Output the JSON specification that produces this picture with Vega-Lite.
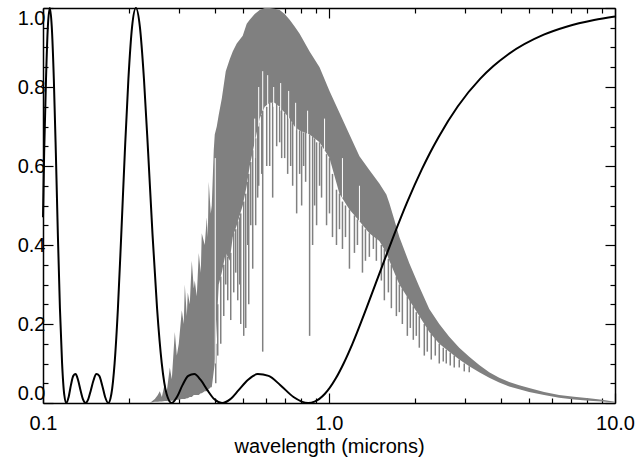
{
  "$schema": "https://vega.github.io/schema/vega-lite/v6.json",
  "width": 572,
  "height": 395,
  "autosize": {"type": "none"},
  "padding": {"left": 43, "top": 8, "right": 23, "bottom": 54},
  "background": "white",
  "config": {
    "view": {"stroke": null},
    "axis": {
      "labelFont": "Liberation Sans", "titleFont": "Liberation Sans",
      "labelFontSize": 20, "titleFontSize": 20, "titleFontWeight": "normal",
      "labelColor": "black", "titleColor": "black", "domainColor": "black", "tickColor": "black",
      "domainWidth": 1.5, "tickWidth": 1.2, "grid": false, "labelOverlap": false, "labelBound": false, "zindex": 1
    }
  },
  "datasets": {
    "band": [
      {"lam": 0.2363, "hi": 0.0, "lo": 0},
      {"lam": 0.2460, "hi": 0.01, "lo": 0.003},
      {"lam": 0.2520, "hi": 0.02, "lo": 0.003},
      {"lam": 0.2561, "hi": 0.03, "lo": 0.004},
      {"lam": 0.2603, "hi": 0.015, "lo": 0.004},
      {"lam": 0.2666, "hi": 0.05, "lo": 0.005},
      {"lam": 0.2709, "hi": 0.03, "lo": 0.005},
      {"lam": 0.2776, "hi": 0.09, "lo": 0.006},
      {"lam": 0.2821, "hi": 0.06, "lo": 0.006},
      {"lam": 0.2890, "hi": 0.18, "lo": 0.007},
      {"lam": 0.2937, "hi": 0.12, "lo": 0.008},
      {"lam": 0.2984, "hi": 0.15, "lo": 0.008},
      {"lam": 0.3057, "hi": 0.235, "lo": 0.01},
      {"lam": 0.3106, "hi": 0.2, "lo": 0.01},
      {"lam": 0.3132, "hi": 0.30, "lo": 0.01},
      {"lam": 0.3183, "hi": 0.22, "lo": 0.012},
      {"lam": 0.3208, "hi": 0.28, "lo": 0.012},
      {"lam": 0.3260, "hi": 0.25, "lo": 0.015},
      {"lam": 0.3313, "hi": 0.36, "lo": 0.015},
      {"lam": 0.3367, "hi": 0.29, "lo": 0.02},
      {"lam": 0.3394, "hi": 0.31, "lo": 0.02},
      {"lam": 0.3449, "hi": 0.27, "lo": 0.02},
      {"lam": 0.3505, "hi": 0.38, "lo": 0.02},
      {"lam": 0.3562, "hi": 0.33, "lo": 0.025},
      {"lam": 0.3590, "hi": 0.43, "lo": 0.025},
      {"lam": 0.3678, "hi": 0.40, "lo": 0.03},
      {"lam": 0.3738, "hi": 0.47, "lo": 0.03},
      {"lam": 0.3768, "hi": 0.42, "lo": 0.035},
      {"lam": 0.3798, "hi": 0.56, "lo": 0.035},
      {"lam": 0.3860, "hi": 0.48, "lo": 0.04},
      {"lam": 0.3891, "hi": 0.50, "lo": 0.04},
      {"lam": 0.3954, "hi": 0.64, "lo": 0.08},
      {"lam": 0.3986, "hi": 0.68, "lo": 0.1},
      {"lam": 0.4051, "hi": 0.70, "lo": 0.2},
      {"lam": 0.4116, "hi": 0.73, "lo": 0.3},
      {"lam": 0.4217, "hi": 0.77, "lo": 0.33},
      {"lam": 0.4355, "hi": 0.84, "lo": 0.38},
      {"lam": 0.4497, "hi": 0.87, "lo": 0.36},
      {"lam": 0.4607, "hi": 0.89, "lo": 0.42},
      {"lam": 0.4758, "hi": 0.91, "lo": 0.45},
      {"lam": 0.4993, "hi": 0.93, "lo": 0.5},
      {"lam": 0.5156, "hi": 0.96, "lo": 0.55},
      {"lam": 0.5282, "hi": 0.97, "lo": 0.6},
      {"lam": 0.5498, "hi": 0.985, "lo": 0.66},
      {"lam": 0.5724, "hi": 0.995, "lo": 0.72},
      {"lam": 0.5959, "hi": 1.0, "lo": 0.75},
      {"lam": 0.6203, "hi": 1.0, "lo": 0.76},
      {"lam": 0.6457, "hi": 0.998, "lo": 0.76},
      {"lam": 0.6722, "hi": 0.995, "lo": 0.75},
      {"lam": 0.6998, "hi": 0.985, "lo": 0.735},
      {"lam": 0.7285, "hi": 0.97, "lo": 0.72},
      {"lam": 0.7584, "hi": 0.953, "lo": 0.70},
      {"lam": 0.7895, "hi": 0.935, "lo": 0.69},
      {"lam": 0.8555, "hi": 0.89, "lo": 0.68},
      {"lam": 0.9268, "hi": 0.85, "lo": 0.66},
      {"lam": 1.004, "hi": 0.79, "lo": 0.62},
      {"lam": 1.088, "hi": 0.735, "lo": 0.53},
      {"lam": 1.179, "hi": 0.68, "lo": 0.49},
      {"lam": 1.278, "hi": 0.625, "lo": 0.46},
      {"lam": 1.384, "hi": 0.59, "lo": 0.43},
      {"lam": 1.500, "hi": 0.556, "lo": 0.41},
      {"lam": 1.587, "hi": 0.528, "lo": 0.38},
      {"lam": 1.626, "hi": 0.506, "lo": 0.36},
      {"lam": 1.693, "hi": 0.463, "lo": 0.33},
      {"lam": 1.762, "hi": 0.42, "lo": 0.30},
      {"lam": 1.909, "hi": 0.354, "lo": 0.26},
      {"lam": 2.069, "hi": 0.294, "lo": 0.22},
      {"lam": 2.242, "hi": 0.238, "lo": 0.18},
      {"lam": 2.430, "hi": 0.2, "lo": 0.15},
      {"lam": 2.633, "hi": 0.168, "lo": 0.13},
      {"lam": 2.854, "hi": 0.14, "lo": 0.11},
      {"lam": 3.093, "hi": 0.117, "lo": 0.093},
      {"lam": 3.352, "hi": 0.096, "lo": 0.078},
      {"lam": 3.633, "hi": 0.078, "lo": 0.064},
      {"lam": 3.937, "hi": 0.064, "lo": 0.052},
      {"lam": 4.267, "hi": 0.053, "lo": 0.042},
      {"lam": 4.624, "hi": 0.045, "lo": 0.035},
      {"lam": 5.010, "hi": 0.038, "lo": 0.028},
      {"lam": 5.651, "hi": 0.028, "lo": 0.02},
      {"lam": 6.377, "hi": 0.02, "lo": 0.013},
      {"lam": 7.192, "hi": 0.016, "lo": 0.009},
      {"lam": 8.117, "hi": 0.012, "lo": 0.006},
      {"lam": 9.013, "hi": 0.008, "lo": 0.004},
      {"lam": 10.0, "hi": 0.003, "lo": 0.001}
    ],
    "spikes": [
      {"lam": 0.4018, "top": 0.15, "bot": 0.05},
      {"lam": 0.4083, "top": 0.25, "bot": 0.12},
      {"lam": 0.4183, "top": 0.32, "bot": 0.15},
      {"lam": 0.4286, "top": 0.35, "bot": 0.22},
      {"lam": 0.4355, "top": 0.38, "bot": 0.30},
      {"lam": 0.4425, "top": 0.37, "bot": 0.26},
      {"lam": 0.4533, "top": 0.38, "bot": 0.21},
      {"lam": 0.4644, "top": 0.43, "bot": 0.28},
      {"lam": 0.4720, "top": 0.44, "bot": 0.33},
      {"lam": 0.4796, "top": 0.46, "bot": 0.26},
      {"lam": 0.4874, "top": 0.47, "bot": 0.30},
      {"lam": 0.4913, "top": 0.48, "bot": 0.20},
      {"lam": 0.5033, "top": 0.51, "bot": 0.17},
      {"lam": 0.5115, "top": 0.53, "bot": 0.19},
      {"lam": 0.5198, "top": 0.56, "bot": 0.40},
      {"lam": 0.5240, "top": 0.58, "bot": 0.25},
      {"lam": 0.5325, "top": 0.61, "bot": 0.45},
      {"lam": 0.5411, "top": 0.64, "bot": 0.34},
      {"lam": 0.5542, "top": 0.67, "bot": 0.45},
      {"lam": 0.5632, "top": 0.70, "bot": 0.52},
      {"lam": 0.5678, "top": 0.71, "bot": 0.55},
      {"lam": 0.5817, "top": 0.73, "bot": 0.58},
      {"lam": 0.5864, "top": 0.74, "bot": 0.13},
      {"lam": 0.6056, "top": 0.75, "bot": 0.60},
      {"lam": 0.6203, "top": 0.76, "bot": 0.60},
      {"lam": 0.6354, "top": 0.76, "bot": 0.52},
      {"lam": 0.6562, "top": 0.76, "bot": 0.65},
      {"lam": 0.6722, "top": 0.75, "bot": 0.66},
      {"lam": 0.6831, "top": 0.75, "bot": 0.62},
      {"lam": 0.6998, "top": 0.735, "bot": 0.62},
      {"lam": 0.7169, "top": 0.73, "bot": 0.58},
      {"lam": 0.7344, "top": 0.72, "bot": 0.60},
      {"lam": 0.7463, "top": 0.71, "bot": 0.55},
      {"lam": 0.7707, "top": 0.70, "bot": 0.48},
      {"lam": 0.7895, "top": 0.69, "bot": 0.58},
      {"lam": 0.8023, "top": 0.69, "bot": 0.50},
      {"lam": 0.8153, "top": 0.685, "bot": 0.60},
      {"lam": 0.8285, "top": 0.685, "bot": 0.56},
      {"lam": 0.8555, "top": 0.68, "bot": 0.17},
      {"lam": 0.8764, "top": 0.675, "bot": 0.40},
      {"lam": 0.8906, "top": 0.67, "bot": 0.50},
      {"lam": 0.9050, "top": 0.66, "bot": 0.45},
      {"lam": 0.9268, "top": 0.66, "bot": 0.55},
      {"lam": 0.9418, "top": 0.65, "bot": 0.52},
      {"lam": 0.9805, "top": 0.63, "bot": 0.45},
      {"lam": 1.004, "top": 0.62, "bot": 0.48},
      {"lam": 1.0285, "top": 0.58, "bot": 0.42},
      {"lam": 1.0621, "top": 0.54, "bot": 0.40},
      {"lam": 1.088, "top": 0.53, "bot": 0.44},
      {"lam": 1.1145, "top": 0.51, "bot": 0.39},
      {"lam": 1.1419, "top": 0.50, "bot": 0.42},
      {"lam": 1.179, "top": 0.49, "bot": 0.34},
      {"lam": 1.2274, "top": 0.475, "bot": 0.38},
      {"lam": 1.2574, "top": 0.465, "bot": 0.40},
      {"lam": 1.3092, "top": 0.45, "bot": 0.33},
      {"lam": 1.3412, "top": 0.44, "bot": 0.36},
      {"lam": 1.384, "top": 0.43, "bot": 0.37},
      {"lam": 1.4293, "top": 0.425, "bot": 0.39},
      {"lam": 1.4642, "top": 0.42, "bot": 0.36},
      {"lam": 1.5243, "top": 0.40, "bot": 0.31},
      {"lam": 1.5616, "top": 0.39, "bot": 0.26},
      {"lam": 1.613, "top": 0.365, "bot": 0.28},
      {"lam": 1.6523, "top": 0.35, "bot": 0.24},
      {"lam": 1.7204, "top": 0.32, "bot": 0.22},
      {"lam": 1.762, "top": 0.30, "bot": 0.23},
      {"lam": 1.805, "top": 0.29, "bot": 0.20},
      {"lam": 1.8791, "top": 0.27, "bot": 0.17},
      {"lam": 1.9244, "top": 0.26, "bot": 0.19},
      {"lam": 1.9714, "top": 0.245, "bot": 0.16},
      {"lam": 2.0196, "top": 0.23, "bot": 0.17},
      {"lam": 2.069, "top": 0.22, "bot": 0.14},
      {"lam": 2.154, "top": 0.20, "bot": 0.12},
      {"lam": 2.2066, "top": 0.19, "bot": 0.13},
      {"lam": 2.2783, "top": 0.175, "bot": 0.11},
      {"lam": 2.353, "top": 0.165, "bot": 0.12},
      {"lam": 2.430, "top": 0.15, "bot": 0.10},
      {"lam": 2.5094, "top": 0.14, "bot": 0.105},
      {"lam": 2.5708, "top": 0.135, "bot": 0.10},
      {"lam": 2.6542, "top": 0.128, "bot": 0.095},
      {"lam": 2.741, "top": 0.12, "bot": 0.09},
      {"lam": 2.854, "top": 0.11, "bot": 0.09},
      {"lam": 2.971, "top": 0.10, "bot": 0.08},
      {"lam": 3.093, "top": 0.093, "bot": 0.078}
    ],
    "notches": [
      {"lam": 0.4002, "top": 0.62, "bot": 0.10},
      {"lam": 0.5498, "top": 0.72, "bot": 0.62},
      {"lam": 0.5678, "top": 0.80, "bot": 0.70},
      {"lam": 0.5864, "top": 0.84, "bot": 0.74},
      {"lam": 0.6104, "top": 0.83, "bot": 0.75},
      {"lam": 0.6406, "top": 0.80, "bot": 0.75},
      {"lam": 0.6776, "top": 0.81, "bot": 0.74},
      {"lam": 0.7227, "top": 0.79, "bot": 0.72},
      {"lam": 0.7645, "top": 0.76, "bot": 0.69},
      {"lam": 0.8419, "top": 0.74, "bot": 0.68},
      {"lam": 0.9649, "top": 0.72, "bot": 0.64},
      {"lam": 1.1145, "top": 0.62, "bot": 0.52},
      {"lam": 1.278, "top": 0.55, "bot": 0.46}
    ],
    "curve": [
      {"lam": 0.1000, "t": 0.47},
      {"lam": 0.10093, "t": 0.633},
      {"lam": 0.10246, "t": 0.821},
      {"lam": 0.1040, "t": 0.953},
      {"lam": 0.10566, "t": 1},
      {"lam": 0.1073, "t": 0.953},
      {"lam": 0.1091, "t": 0.821},
      {"lam": 0.1109, "t": 0.633},
      {"lam": 0.1127, "t": 0.427},
      {"lam": 0.1146, "t": 0.240},
      {"lam": 0.1166, "t": 0.101},
      {"lam": 0.1186, "t": 0.0227},
      {"lam": 0.12076, "t": 0},
      {"lam": 0.12295, "t": 0.0153},
      {"lam": 0.1252, "t": 0.0452},
      {"lam": 0.1276, "t": 0.0686},
      {"lam": 0.1300, "t": 0.0732},
      {"lam": 0.1326, "t": 0.0583},
      {"lam": 0.13525, "t": 0.0325},
      {"lam": 0.1380, "t": 0.0092},
      {"lam": 0.14088, "t": 0},
      {"lam": 0.1439, "t": 0.0092},
      {"lam": 0.1470, "t": 0.0325},
      {"lam": 0.1503, "t": 0.0583},
      {"lam": 0.1537, "t": 0.0732},
      {"lam": 0.1573, "t": 0.0686},
      {"lam": 0.1610, "t": 0.0452},
      {"lam": 0.1649, "t": 0.0153},
      {"lam": 0.16906, "t": 0},
      {"lam": 0.1734, "t": 0.0227},
      {"lam": 0.1780, "t": 0.101},
      {"lam": 0.1828, "t": 0.240},
      {"lam": 0.1878, "t": 0.427},
      {"lam": 0.1932, "t": 0.633},
      {"lam": 0.1989, "t": 0.821},
      {"lam": 0.2049, "t": 0.953},
      {"lam": 0.2113, "t": 1},
      {"lam": 0.2181, "t": 0.953},
      {"lam": 0.2254, "t": 0.821},
      {"lam": 0.2332, "t": 0.633},
      {"lam": 0.2415, "t": 0.427},
      {"lam": 0.2505, "t": 0.240},
      {"lam": 0.2601, "t": 0.101},
      {"lam": 0.2705, "t": 0.0227},
      {"lam": 0.2818, "t": 0},
      {"lam": 0.2940, "t": 0.0153},
      {"lam": 0.3074, "t": 0.0452},
      {"lam": 0.3220, "t": 0.0686},
      {"lam": 0.3381, "t": 0.0732},
      {"lam": 0.3559, "t": 0.0583},
      {"lam": 0.3757, "t": 0.0325},
      {"lam": 0.3978, "t": 0.0092},
      {"lam": 0.4227, "t": 0},
      {"lam": 0.4508, "t": 0.0092},
      {"lam": 0.4830, "t": 0.0325},
      {"lam": 0.5202, "t": 0.0583},
      {"lam": 0.5635, "t": 0.0732},
      {"lam": 0.6148, "t": 0.0686},
      {"lam": 0.6762, "t": 0.0452},
      {"lam": 0.7514, "t": 0.0153},
      {"lam": 0.8453, "t": 0},
      {"lam": 0.8898, "t": 0.0033},
      {"lam": 0.9661, "t": 0.0227},
      {"lam": 1.0566, "t": 0.0625},
      {"lam": 1.127, "t": 0.1013},
      {"lam": 1.2076, "t": 0.1498},
      {"lam": 1.352, "t": 0.2401},
      {"lam": 1.537, "t": 0.3479},
      {"lam": 1.691, "t": 0.4268},
      {"lam": 1.878, "t": 0.509},
      {"lam": 2.113, "t": 0.592},
      {"lam": 2.254, "t": 0.633},
      {"lam": 2.415, "t": 0.673},
      {"lam": 2.818, "t": 0.7506},
      {"lam": 3.381, "t": 0.8211},
      {"lam": 3.757, "t": 0.853},
      {"lam": 4.2265, "t": 0.8824},
      {"lam": 5.635, "t": 0.9324},
      {"lam": 6.762, "t": 0.9527},
      {"lam": 8.453, "t": 0.9695},
      {"lam": 10.0, "t": 0.9782}
    ]
  },
  "layer": [
    {
      "data": {"name": "band"},
      "mark": {"type": "area", "color": "#808080", "opacity": 1},
      "encoding": {
        "x": {
          "field": "lam", "type": "quantitative",
          "scale": {"type": "log", "domain": [0.1, 10], "nice": false},
          "axis": {
            "orient": "bottom",
            "values": [0.1, 0.2, 0.3, 0.4, 0.5, 0.6, 0.7, 0.8, 0.9, 1, 2, 3, 4, 5, 6, 7, 8, 9, 10],
            "tickSize": {"condition": {"test": "datum.value == 0.1 || datum.value == 1 || datum.value == 10", "value": -10}, "value": -5},
            "labelExpr": "datum.value == 0.1 ? '0.1' : datum.value == 1 ? '1.0' : datum.value == 10 ? '10.0' : ''",
            "labelFlush": false,
            "labelPadding": 20,
            "title": "wavelength (microns)",
            "titlePadding": -2
          }
        },
        "y": {
          "field": "hi", "type": "quantitative",
          "scale": {"domain": [0, 1], "nice": false, "zero": false},
          "axis": {
            "orient": "left",
            "values": [0, 0.05, 0.1, 0.15, 0.2, 0.25, 0.3, 0.35, 0.4, 0.45, 0.5, 0.55, 0.6, 0.65, 0.7, 0.75, 0.8, 0.85, 0.9, 0.95, 1],
            "tickSize": {"condition": {"test": "datum.value == 0 || datum.value == 0.2 || datum.value == 0.4 || datum.value == 0.6 || datum.value == 0.8 || datum.value == 1", "value": -10}, "value": -5},
            "labelExpr": "(datum.value == 0 || datum.value == 0.2 || datum.value == 0.4 || datum.value == 0.6 || datum.value == 0.8 || datum.value == 1) ? format(datum.value, '.1f') : ''",
            "labelFlush": true,
            "labelPadding": 8,
            "title": null
          }
        },
        "y2": {"field": "lo"}
      }
    },
    {
      "data": {"name": "spikes"},
      "mark": {"type": "rule", "color": "#808080", "strokeWidth": 1.5},
      "encoding": {
        "x": {
          "field": "lam", "type": "quantitative",
          "axis": {
            "orient": "top",
            "values": [0.1, 0.2, 0.3, 0.4, 0.5, 0.6, 0.7, 0.8, 0.9, 1, 2, 3, 4, 5, 6, 7, 8, 9, 10],
            "tickSize": {"condition": {"test": "datum.value == 0.1 || datum.value == 1 || datum.value == 10", "value": -10}, "value": -5},
            "labels": false, "title": null
          }
        },
        "y": {
          "field": "top", "type": "quantitative",
          "axis": {
            "orient": "right",
            "values": [0, 0.05, 0.1, 0.15, 0.2, 0.25, 0.3, 0.35, 0.4, 0.45, 0.5, 0.55, 0.6, 0.65, 0.7, 0.75, 0.8, 0.85, 0.9, 0.95, 1],
            "tickSize": {"condition": {"test": "datum.value == 0 || datum.value == 0.2 || datum.value == 0.4 || datum.value == 0.6 || datum.value == 0.8 || datum.value == 1", "value": -10}, "value": -5},
            "labels": false, "title": null
          }
        },
        "y2": {"field": "bot"}
      }
    },
    {
      "data": {"name": "notches"},
      "mark": {"type": "rule", "color": "white", "strokeWidth": 1},
      "encoding": {
        "x": {"field": "lam", "type": "quantitative", "axis": null},
        "y": {"field": "top", "type": "quantitative", "axis": null},
        "y2": {"field": "bot"}
      }
    },
    {
      "data": {"name": "curve"},
      "mark": {"type": "line", "color": "black", "strokeWidth": 2, "interpolate": "monotone"},
      "encoding": {
        "x": {"field": "lam", "type": "quantitative", "axis": null},
        "y": {"field": "t", "type": "quantitative", "axis": null}
      }
    }
  ],
  "resolve": {"axis": {"x": "independent", "y": "independent"}}
}
